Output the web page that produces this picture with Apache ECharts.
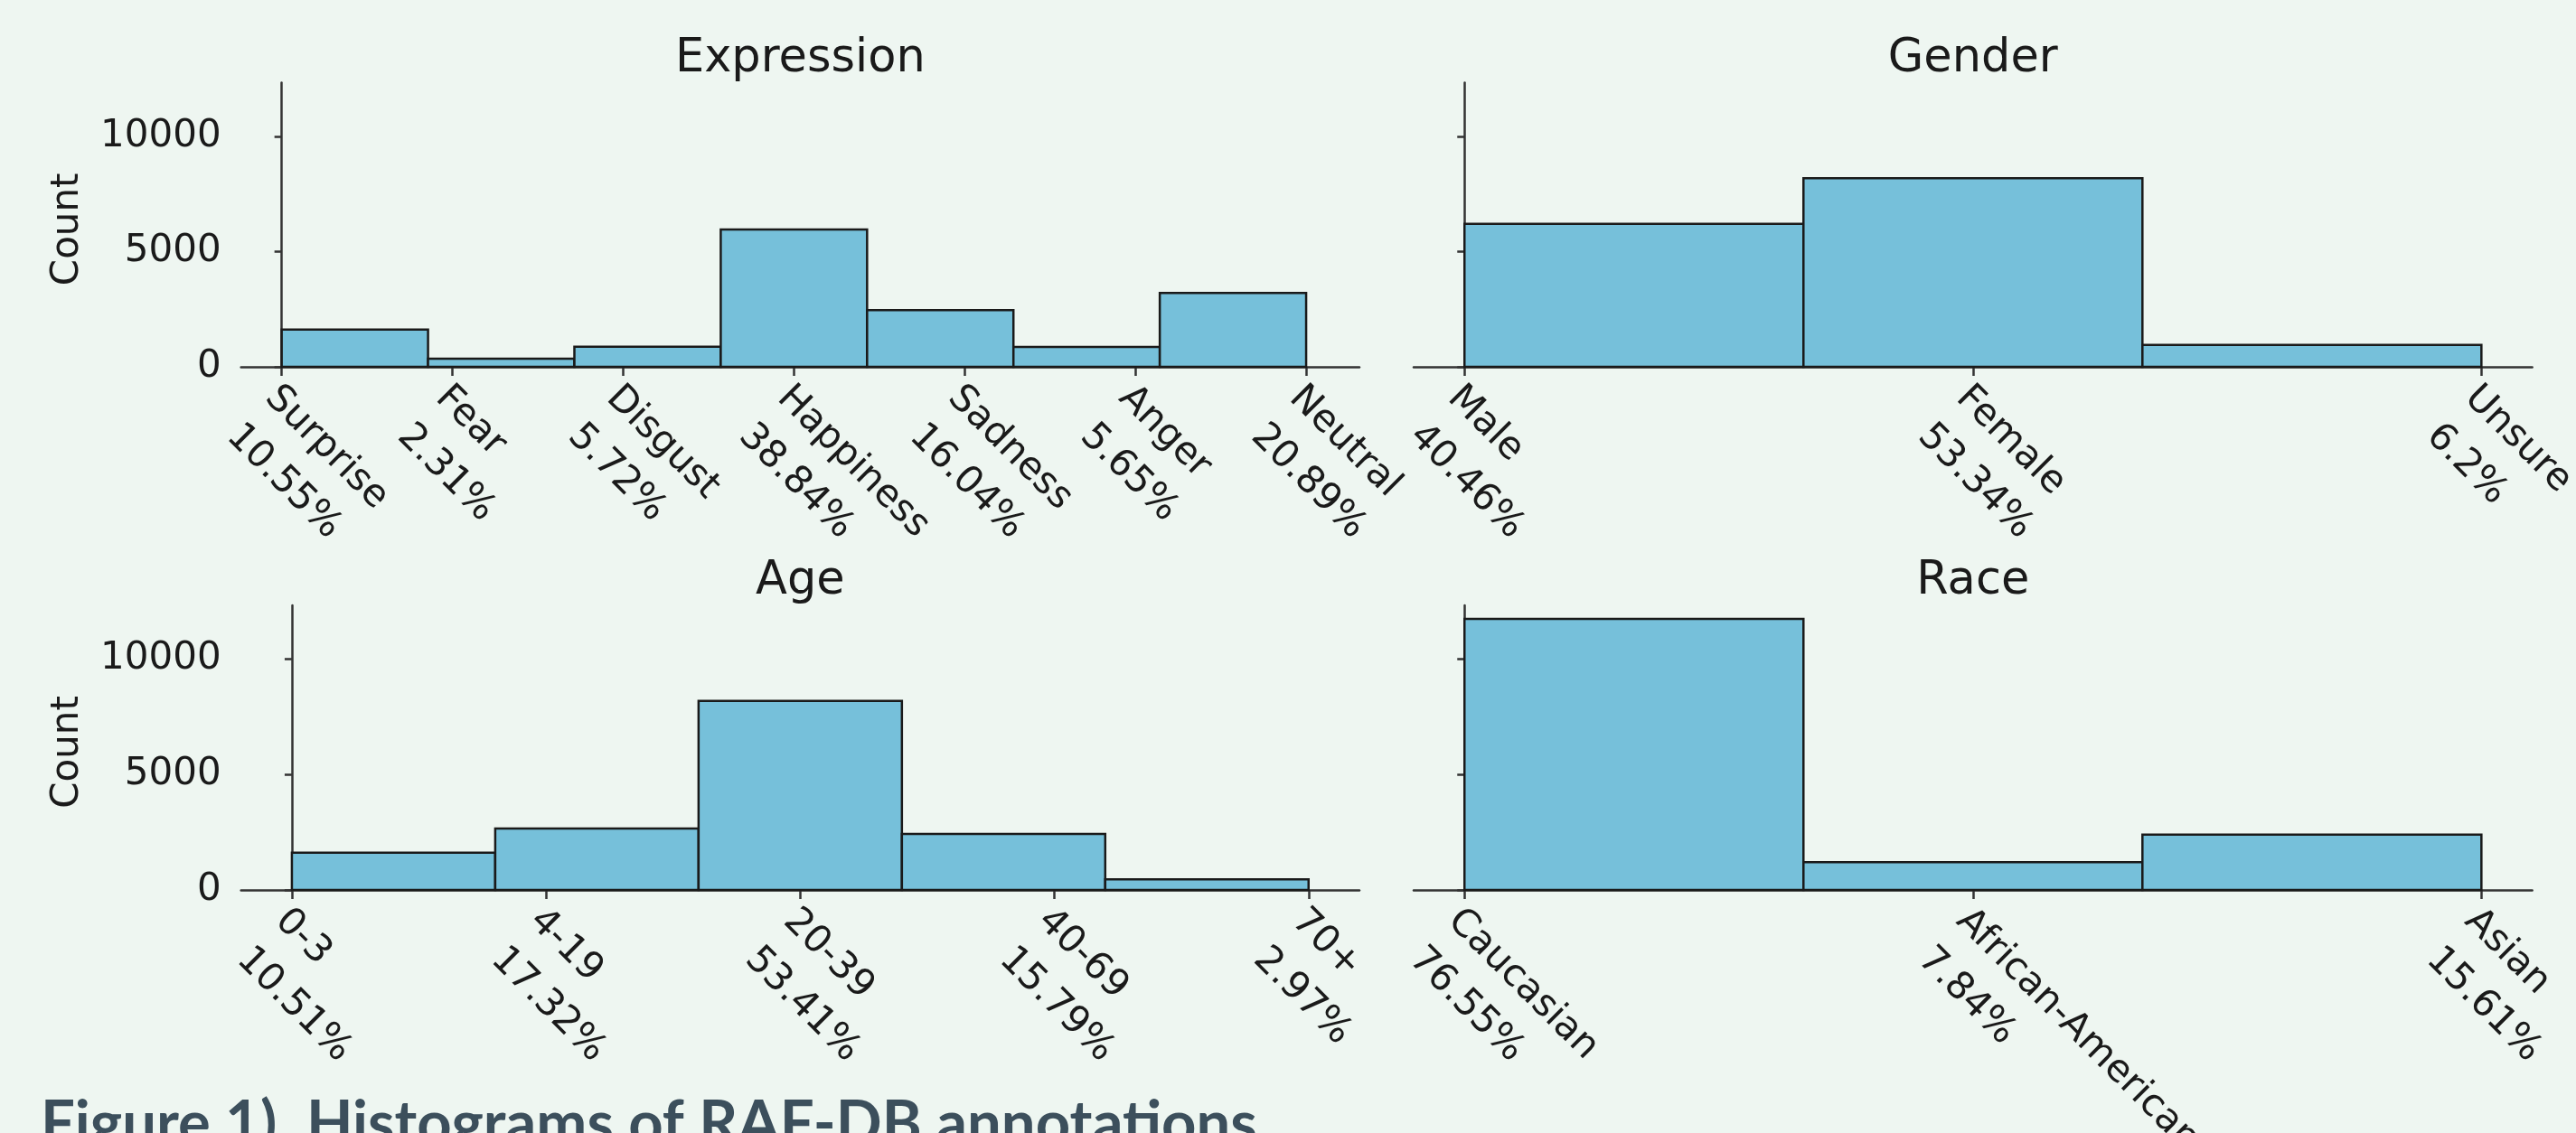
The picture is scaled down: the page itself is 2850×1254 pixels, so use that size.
<!DOCTYPE html>
<html><head><meta charset="utf-8">
<script src="https://cdn.jsdelivr.net/npm/echarts@6/dist/echarts.min.js"></script>
<style>html,body{margin:0;padding:0;background:#eef6f1;} #c{width:2850px;height:1254px;}</style>
</head><body><div id="c"></div>
<script>
// ---- data ----
const expressionLabels = ['Surprise','Fear','Disgust','Happiness','Sadness','Anger','Neutral'];
const expressionPct = [10.55, 2.31, 5.72, 38.84, 16.04, 5.65, 20.89];
const expressionCounts = [1619, 355, 877, 5957, 2460, 867, 3204];
const genderLabels = ['Male','Female','Unsure'];
const genderPct = [40.46, 53.34, 6.2];
const genderCounts = [6206, 8182, 951];
const ageLabels = ['0-3','4-19','20-39','40-69','70+'];
const agePct = [10.51, 17.32, 53.41, 15.79, 2.97];
const ageCounts = [1612, 2657, 8193, 2422, 456];
const raceLabels = ['Caucasian','African-American','Asian'];
const racePct = [76.55, 7.84, 15.61];
const raceCounts = [11742, 1203, 2394];
const yTicks = [0, 5000, 10000];
const panelTitles = ['Expression','Gender','Age','Race'];
const yName = 'Count';
const caption = 'Figure 1)  Histograms of RAF-DB annotations';

// ---- layout / style ----
const FONT = '"DejaVu Sans", sans-serif';
const TXT = '#1a1a1a';
const AX = '#333333';
const BAR = '#76c0da';
const yMax = Math.max(...expressionCounts, ...genderCounts, ...ageCounts, ...raceCounts) * 1.05;

const panels = [
  {title: panelTitles[0], labels: expressionLabels, pct: expressionPct, counts: expressionCounts,
   left: 266.7, top: 91.6, width: 1237.3, height: 314.4, xmin: -0.238, xmax: 6.312, showY: true},
  {title: panelTitles[1], labels: genderLabels, pct: genderPct, counts: genderCounts,
   left: 1564, top: 91.6, width: 1237.6, height: 314.4, xmin: -0.1, xmax: 2.1, showY: false},
  {title: panelTitles[2], labels: ageLabels, pct: agePct, counts: ageCounts,
   left: 266.7, top: 670, width: 1237.3, height: 315, xmin: -0.2, xmax: 4.2, showY: true},
  {title: panelTitles[3], labels: raceLabels, pct: racePct, counts: raceCounts,
   left: 1564, top: 670, width: 1237.6, height: 315, xmin: -0.1, xmax: 2.1, showY: false}
];

const chart = echarts.init(document.getElementById('c'), null, {renderer: 'canvas'});

const grids = [], xAxes = [], yAxes = [], series = [], graphics = [];
panels.forEach((p, i) => {
  const n = p.labels.length;
  const idx = p.labels.map((_, k) => k);
  const bw = (n - 1) / n;
  grids.push({left: p.left, top: p.top, width: p.width, height: p.height,
              containLabel: false, outerBoundsMode: 'none'});
  xAxes.push({
    type: 'value', gridIndex: i, min: p.xmin, max: p.xmax,
    axisLine: {show: true, onZero: false, lineStyle: {color: AX, width: 2.5}},
    axisTick: {show: true, inside: false, length: 10, customValues: idx, lineStyle: {color: AX, width: 2.5}},
    axisLabel: {
      show: true, customValues: idx, rotate: -45, align: 'left', verticalAlign: 'top', margin: 16,
      hideOverlap: false,
      formatter: v => '{a|' + p.labels[Math.round(v)] + '}\n{b|' + p.pct[Math.round(v)] + '%}',
      rich: {
        a: {fontFamily: FONT, fontSize: 42, color: TXT, lineHeight: 34},
        b: {fontFamily: FONT, fontSize: 42, color: TXT, lineHeight: 86}
      }
    },
    splitLine: {show: false}
  });
  yAxes.push({
    type: 'value', gridIndex: i, min: 0, max: yMax,
    axisLine: {show: true, lineStyle: {color: AX, width: 2.5}},
    axisTick: {show: true, inside: false, length: 8, customValues: yTicks, lineStyle: {color: AX, width: 2.5}},
    axisLabel: {show: p.showY, customValues: yTicks, margin: 22, fontFamily: FONT, fontSize: 42, color: TXT,
                formatter: v => String(Math.round(v))},
    splitLine: {show: false}
  });
  series.push({
    type: 'custom', xAxisIndex: i, yAxisIndex: i, silent: true,
    data: p.counts.map((c, k) => [k * bw, (k + 1) * bw, c]),
    encode: {x: [0, 1], y: 2},
    renderItem: (params, api) => {
      const a = api.coord([api.value(0), api.value(2)]);
      const b = api.coord([api.value(1), 0]);
      return {type: 'rect', shape: {x: a[0], y: a[1], width: b[0] - a[0], height: b[1] - a[1]},
              style: {fill: BAR, stroke: TXT, lineWidth: 2.5}};
    }
  });
  graphics.push({type: 'text', x: p.left + p.width / 2, y: p.top - 26, silent: true,
    style: {text: p.title, font: '51px ' + FONT, fill: TXT, align: 'center', verticalAlign: 'middle'}});
  if (p.showY) {
    graphics.push({type: 'text', x: 75, y: p.top + p.height / 2 + 5, rotation: Math.PI / 2, silent: true,
      style: {text: yName, font: '42px ' + FONT, fill: TXT, align: 'center', verticalAlign: 'middle'}});
  }
});
graphics.push({type: 'text', x: 45, y: 1222.5 + 0.33 * 67, silent: true,
  style: {text: caption, font: 'bold 67px Lato', fill: '#3c4f5c', align: 'left', verticalAlign: 'middle'}});

chart.setOption({
  backgroundColor: '#eef6f1',
  animation: false,
  grid: grids, xAxis: xAxes, yAxis: yAxes, series: series,
  graphic: graphics
});
</script></body></html>
